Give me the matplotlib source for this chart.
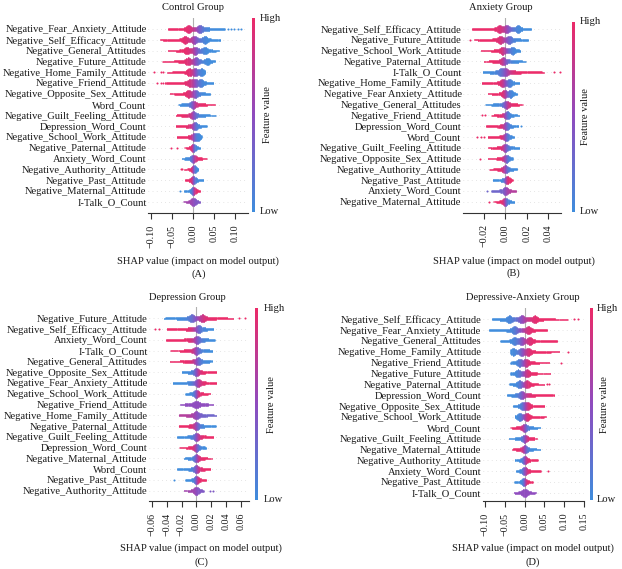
import numpy as np
import matplotlib
matplotlib.use("Agg")
import matplotlib.pyplot as plt
from matplotlib.colors import LinearSegmentedColormap
from matplotlib.collections import LineCollection

plt.rcParams['font.family'] = ['Liberation Serif', 'DejaVu Serif']

# ---------------- data ----------------
A_features = ["Negative_Fear_Anxiety_Attitude", "Negative_Self_Efficacy_Attitude", "Negative_General_Attitudes",
              "Negative_Future_Attitude", "Negative_Home_Family_Attitude", "Negative_Friend_Attitude",
              "Negative_Opposite_Sex_Attitude", "Word_Count", "Negative_Guilt_Feeling_Attitude",
              "Depression_Word_Count", "Negative_School_Work_Attitude", "Negative_Paternal_Attitude",
              "Anxiety_Word_Count", "Negative_Authority_Attitude", "Negative_Past_Attitude",
              "Negative_Maternal_Attitude", "I-Talk_O_Count"]
A_lo = [-0.060, -0.079, -0.061, -0.074, -0.063, -0.067, -0.056, -0.036, -0.042, -0.042, -0.040, -0.021,
        -0.028, -0.022, -0.020, -0.022, -0.024]
A_hi = [0.075, 0.064, 0.061, 0.052, 0.028, 0.048, 0.040, 0.052, 0.053, 0.032, 0.020, 0.016, 0.032, 0.012,
        0.024, 0.016, 0.016]
A_mid = [0.010, 0.004, 0.006, 0.004, 0.004, 0.004, 0.002, 0.0, 0.0, 0.0, 0.0, 0.0, 0.0, 0.0, 0.0, 0.0, 0.0]
A_dir = [1, 1, 1, 1, 1, 1, 1, 0, 1, 1, 1, 1, 0, 1, 1, 0, 0.6]
A_peaks = [[-0.012, 0.016], [-0.02, 0.002, 0.028], [-0.016, 0.004, 0.028], [-0.013, 0.006, 0.034],
           [-0.01, 0.004, 0.02], [-0.008, 0.004, 0.018], [-0.012, 0.004], [0.0], [0.0], [0.004],
           [0.002, 0.012], [0.0], [0.0], [0.002], [0.0], [0.0], [0.0]]
A_dots = [(0, 0.082), (0, 0.090), (0, 0.098), (0, 0.106), (0, 0.114), (4, -0.093), (4, -0.078), (4, -0.071),
          (5, -0.087), (5, -0.076), (5, -0.071), (11, -0.052), (11, -0.040), (13, -0.029), (13, -0.026),
          (15, -0.032)]
A_ticks = [-0.10, -0.05, 0.00, 0.05, 0.10]

B_features = ["Negative_Self_Efficacy_Attitude", "Negative_Future_Attitude", "Negative_School_Work_Attitude",
              "Negative_Paternal_Attitude", "I-Talk_O_Count", "Negative_Home_Family_Attitude",
              "Negative_Fear Anxiety_Attitude", "Negative_General_Attitudes", "Negative_Friend_Attitude",
              "Depression_Word_Count", "Word_Count", "Negative_Guilt_Feeling_Attitude",
              "Negative_Opposite_Sex_Attitude", "Negative_Authority_Attitude", "Negative_Past_Attitude",
              "Anxiety_Word_Count", "Negative_Maternal_Attitude"]
B_lo = [-0.031, -0.029, -0.023, -0.020, -0.021, -0.022, -0.0164, -0.0186, -0.013, -0.018, -0.0165, -0.016,
        -0.0165, -0.015, -0.0118, -0.013, -0.011]
B_hi = [0.024, 0.021, 0.014, 0.019, 0.036, 0.013, 0.011, 0.016, 0.013, 0.012, 0.008, 0.013, 0.0068, 0.011,
        0.0068, 0.010, 0.0084]
B_mid = [0.002, 0.001, 0.001, 0.0, 0.0, 0.0, 0.001, 0.0, 0.0, 0.0, 0.0, 0.0, 0.0, 0.0, 0.0, 0.0, 0.0]
B_dir = [1, 1, 1, 1, 0, 1, 1, 0, 1, 1, 1, 1, 1, 1, 0, 0.3, 1]
B_peaks = [[-0.0056, 0.001, 0.012], [-0.0047, 0.0037], [-0.0025, 0.0068], [-0.002], [-0.004, 0.0],
           [-0.0025, 0.004], [-0.001, 0.005], [0.001], [0.002], [0.001], [0.001], [0.0], [0.001], [0.0],
           [0.002], [0.0], [0.0]]
B_dots = [(4, 0.045), (4, 0.051), (1, -0.0326), (10, -0.026), (10, -0.023), (10, -0.020), (8, -0.022),
          (8, -0.019), (9, 0.015), (12, -0.024), (15, -0.017), (16, -0.015)]
B_ticks = [-0.02, 0.00, 0.02, 0.04]

C_features = ["Negative_Future_Attitude", "Negative_Self_Efficacy_Attitude", "Anxiety_Word_Count",
              "I-Talk_O_Count", "Negative_General_Attitudes", "Negative_Opposite_Sex_Attitude",
              "Negative_Fear_Anxiety_Attitude", "Negative_School_Work_Attitude", "Negative_Friend_Attitude",
              "Negative_Home_Family_Attitude", "Negative_Paternal_Attitude", "Negative_Guilt_Feeling_Attitude",
              "Depression_Word_Count", "Negative_Maternal_Attitude", "Word_Count", "Negative_Past_Attitude",
              "Negative_Authority_Attitude"]
C_lo = [-0.044, -0.040, -0.041, -0.035, -0.036, -0.020, -0.032, -0.015, -0.022, -0.024, -0.024, -0.026,
        -0.023, -0.017, -0.026, -0.015, -0.017]
C_hi = [0.050, 0.023, 0.025, 0.0216, 0.021, 0.027, 0.027, 0.019, 0.023, 0.027, 0.026, 0.023, 0.013, 0.021,
        0.019, 0.013, 0.010]
C_mid = [0.0] * 17
C_dir = [0, 1, 1, 1, 1, 0, 0, 0, 0.5, 0.7, 1, 0, 1, 0, 0, 0, 0.6]
C_peaks = [[-0.0063, 0.0086], [0.0036], [0.001], [0.0], [0.0025], [0.0], [0.0025], [0.0], [0.0], [0.0],
           [0.0], [0.0], [0.0], [0.0], [0.0], [0.0], [0.0]]
C_dots = [(0, 0.058), (0, 0.066), (1, -0.056), (1, -0.050), (15, -0.030), (16, 0.019), (16, 0.023)]
C_ticks = [-0.06, -0.04, -0.02, 0.00, 0.02, 0.04, 0.06]

D_features = ["Negative_Self_Efficacy_Attitude", "Negative_Fear_Anxiety_Attitude", "Negative_General_Attitudes",
              "Negative_Home_Family_Attitude", "Negative_Friend_Attitude", "Negative_Future_Attitude",
              "Negative_Paternal_Attitude", "Depression_Word_Count", "Negative_Opposite_Sex_Attitude",
              "Negative_School_Work_Attitude", "Word_Count", "Negative_Guilt_Feeling_Attitude",
              "Negative_Maternal_Attitude", "Negative_Authority_Attitude", "Anxiety_Word_Count",
              "Negative_Past_Attitude", "I-Talk_O_Count"]
D_lo = [-0.083, -0.091, -0.062, -0.036, -0.036, -0.036, -0.039, -0.045, -0.030, -0.025, -0.036, -0.041,
        -0.032, -0.025, -0.022, -0.026, -0.028]
D_hi = [0.109, 0.057, 0.082, 0.088, 0.063, 0.065, 0.050, 0.075, 0.050, 0.054, 0.040, 0.031, 0.040, 0.033,
        0.041, 0.020, 0.029]
D_mid = [-0.008, -0.010, -0.006, -0.005, -0.004, -0.004, -0.004, -0.004, 0.0, -0.003, 0.0, 0.0, 0.0, 0.0,
         0.0, 0.0, 0.0]
D_dir = [0, 0, 0, 0, 0, 0, 0, 0, 0, 0, 1, 0, 1, 0, 0, 0, 0.5]
D_peaks = [[-0.039, -0.0076, 0.026], [-0.026, 0.0093], [-0.026, -0.0076, 0.0135], [-0.030, -0.0076, 0.0093],
           [-0.0135, 0.0034], [-0.0177, 0.006], [-0.0135, 0.006], [-0.0076], [-0.005, 0.0076],
           [-0.0135, 0.006], [0.0], [0.0], [0.0], [0.0], [0.0], [-0.0025], [0.0]]
D_dots = [(0, 0.126), (0, 0.135), (3, 0.109), (4, 0.092), (6, 0.058), (6, 0.063), (14, 0.060)]
D_ticks = [-0.10, -0.05, 0.00, 0.05, 0.10, 0.15]

titles = ["Control Group", "Anxiety Group", "Depression Group", "Depressive-Anxiety Group"]
letters = ["(A)", "(B)", "(C)", "(D)"]

# ---------------- style / layout ----------------
W, H = 622, 569
fig = plt.figure(figsize=(W / 100, H / 100), dpi=100)
cmap = LinearSegmentedColormap.from_list('shap', ['#3f8ddd', '#8f4cbf', '#ec2a68'])
FS = 7.6
TXT = '#1a1a1a'

layout = [
    dict(l=148, r=248, t=18, b=213, zero=193.3, ppu=420, row0=29, rowN=201.7, tx=193, ty=7.3,
         cbx=252.3, cbt=18.3, cbb=211.7, txt=260, fvx=267, xlx=198.3, xly=260.7, lety=274),
    dict(l=463, r=561, t=18, b=212.7, zero=505.3, ppu=1075, row0=29, rowN=201.7, tx=501, ty=7.3,
         cbx=571.5, cbt=21.7, cbb=211.7, txt=579.3, fvx=586, xlx=513.7, xly=260.7, lety=273.5),
    dict(l=149, r=249, t=307, b=501, zero=196.3, ppu=740, row0=318.3, rowN=490.7, tx=187.7, ty=297.3,
         cbx=255, cbt=308.3, cbb=500, txt=263.3, fvx=271.7, xlx=201, xly=547.7, lety=561.7),
    dict(l=482.7, r=583.7, t=308, b=501, zero=524.7, ppu=394, row0=319.3, rowN=492.7, tx=522.7, ty=297.3,
         cbx=590, cbt=308.3, cbb=500, txt=597, fvx=604.3, xlx=532.5, xly=547.7, lety=561.7),
]

panels = [
    (A_features, A_lo, A_hi, A_mid, A_dir, A_peaks, A_dots, A_ticks),
    (B_features, B_lo, B_hi, B_mid, B_dir, B_peaks, B_dots, B_ticks),
    (C_features, C_lo, C_hi, C_mid, C_dir, C_peaks, C_dots, C_ticks),
    (D_features, D_lo, D_hi, D_mid, D_dir, D_peaks, D_dots, D_ticks),
]


def colour_value(x, lo, hi, mid, d):
    s = 0.12 * (hi - lo)
    return 0.5 + (0.5 - d) * np.tanh((np.asarray(x) - mid) / s)


for k, (feat, lo, hi, mid, dr, peaks, dots, ticks) in enumerate(panels):
    L = layout[k]
    ax = fig.add_axes([L['l'] / W, 1 - L['b'] / H, (L['r'] - L['l']) / W, (L['b'] - L['t']) / H])
    n = len(feat)
    sp = (L['rowN'] - L['row0']) / (n - 1)
    ax.set_xlim((L['l'] - L['zero']) / L['ppu'], (L['r'] - L['zero']) / L['ppu'])
    ax.set_ylim(n - 1 + (L['b'] - L['rowN']) / sp, (L['t'] - L['row0']) / sp)
    ppu = L['ppu']
    for i in range(n):
        ax.axhline(i, color='#cccccc', lw=0.5, dashes=(1, 5), zorder=-1)
        xs = np.linspace(lo[i], hi[i], max(int((hi[i] - lo[i]) * ppu * 3), 10))
        v = colour_value(xs, lo[i], hi[i], mid[i], dr[i])
        span = hi[i] - lo[i]
        env = 0.06 + 0.13 * np.exp(-((xs - mid[i]) / (0.3 * span)) ** 2)
        pw = 2.6 / ppu
        for p in peaks[i]:
            env = env + 0.21 * np.exp(-((xs - p) / pw) ** 2)
        env = np.minimum(env, 0.37)
        segs = [[(x, i - h), (x, i + h)] for x, h in zip(xs, env)]
        ax.add_collection(LineCollection(segs, colors=cmap(v), linewidths=0.6, alpha=0.92, zorder=2))
    for (row, x) in dots:
        vv = colour_value(x, lo[row], hi[row], mid[row], dr[row])
        ax.scatter([x], [row], s=2.2, color=cmap(float(vv)), lw=0, zorder=3)
    ax.axvline(0, color='#b0b0b0', lw=0.8, zorder=1)
    for side in ['top', 'left', 'right']:
        ax.spines[side].set_visible(False)
    ax.spines['bottom'].set_color('#333333')
    ax.spines['bottom'].set_linewidth(0.8)
    ax.set_yticks(range(n))
    ax.set_yticklabels(feat, fontsize=FS, color=TXT)
    ax.tick_params(axis='y', length=0, pad=1)
    ax.set_xticks(ticks)
    ax.set_xticklabels([f"{t:.2f}".replace('-', '\u2212') for t in ticks], rotation=90, fontsize=7.2,
                       color=TXT)
    ax.tick_params(axis='x', length=4.3, width=0.8, color='#333333', pad=4)

    # colorbar
    cax = fig.add_axes([L['cbx'] / W, 1 - L['cbb'] / H, 3 / W, (L['cbb'] - L['cbt']) / H])
    cax.imshow(np.linspace(1, 0, 256)[:, None], aspect='auto', cmap=cmap)
    cax.axis('off')
    fig.text(L['txt'] / W, 1 - L['cbt'] / H, 'High', ha='left', va='center', fontsize=FS, color=TXT)
    fig.text(L['txt'] / W, 1 - L['cbb'] / H, 'Low', ha='left', va='center', fontsize=FS, color=TXT)
    fig.text(L['fvx'] / W, 1 - (L['cbt'] + L['cbb']) / 2 / H, 'Feature value', rotation=90, ha='center',
             va='center', fontsize=FS, color=TXT)

    fig.text(L['tx'] / W, 1 - L['ty'] / H, titles[k], ha='center', va='center', fontsize=FS, color=TXT)
    fig.text(L['xlx'] / W, 1 - L['xly'] / H, 'SHAP value (impact on model output)', ha='center',
             va='center', fontsize=FS, color=TXT)
    fig.text(L['xlx'] / W, 1 - L['lety'] / H, letters[k], ha='center', va='center', fontsize=FS,
             color=TXT)

fig.savefig('out.png', dpi=100, facecolor='white')
